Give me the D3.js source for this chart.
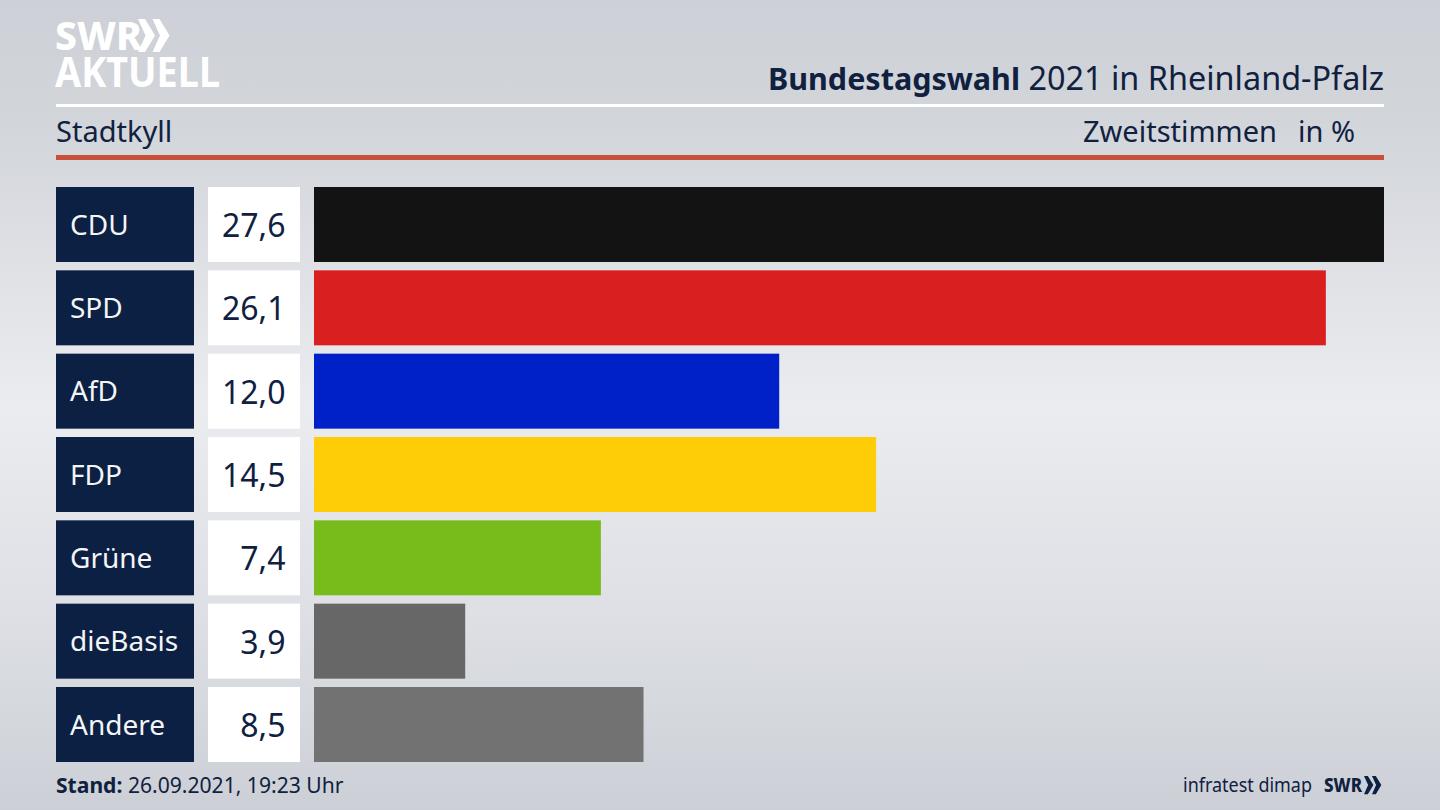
<!DOCTYPE html>
<html>
<head>
<meta charset="utf-8">
<script src="https://cdn.jsdelivr.net/npm/d3@7"></script>
<style>
    html, body { margin: 0; padding: 0; background: #d5d8de; }
    svg { display: block; }
    text { font-family: "Noto Sans", sans-serif; }
</style>
</head>
<body>
<div id="chart"></div>
<script>
const parties = ['CDU', 'SPD', 'AfD', 'FDP', 'Grüne', 'dieBasis', 'Andere'];
const values = [27.6, 26.1, 12.0, 14.5, 7.4, 3.9, 8.5];
const barColors = ['#131313', '#da201f', '#0021c8', '#ffcc08', '#78bc1b', '#676767', '#727273'];

const width = 1440,
    height = 810,
    navy = '#0b2042',
    textDark = '#10213f';

const svg =
    d3.select('#chart')
        .append('svg')
        .attr('width', width)
        .attr('height', height);

// background, a vertical band that is lightest just above the middle
const glow = svg.append('defs')
    .append('linearGradient')
    .attr('id', 'glow')
    .attr('x1', 0)
    .attr('y1', 0)
    .attr('x2', 0)
    .attr('y2', 1);
glow.append('stop').attr('offset', '0%').attr('stop-color', '#cdd0d6');
glow.append('stop').attr('offset', '15%').attr('stop-color', '#d2d5da');
glow.append('stop').attr('offset', '50%').attr('stop-color', '#ebecf0');
glow.append('stop').attr('offset', '75%').attr('stop-color', '#dee0e5');
glow.append('stop').attr('offset', '100%').attr('stop-color', '#ccd0d6');

svg.append('rect')
    .attr('width', width)
    .attr('height', height)
    .attr('fill', 'url(#glow)');

const y = d3.scaleBand()
    .domain(parties)
    .range([187, 762])
    .paddingInner(0.1);

const x = d3.scaleLinear()
    .domain([0, 27.6])
    .range([314, 1384]);

const rows = svg.selectAll('g.row')
    .data(parties)
    .enter()
    .append('g')
    .attr('class', 'row');

rows.append('rect')
    .attr('x', 56)
    .attr('y', d => y(d))
    .attr('width', 138)
    .attr('height', y.bandwidth())
    .attr('fill', navy);

rows.append('text')
    .text(d => d)
    .attr('x', 70)
    .attr('y', d => y(d) + y.bandwidth() / 2 + 10)
    .attr('font-size', 28)
    .attr('fill', '#f4f5f7');

rows.append('rect')
    .attr('x', 208)
    .attr('y', d => y(d))
    .attr('width', 92)
    .attr('height', y.bandwidth())
    .attr('fill', '#ffffff');

rows.append('text')
    .text((d, i) => values[i].toFixed(1).replace('.', ','))
    .attr('x', 285.5)
    .attr('y', d => y(d) + y.bandwidth() / 2 + 12.5)
    .attr('text-anchor', 'end')
    .attr('font-size', 32)
    .attr('fill', textDark);

rows.append('rect')
    .attr('x', x(0))
    .attr('y', d => y(d))
    .attr('width', (d, i) => x(values[i]) - x(0))
    .attr('height', y.bandwidth())
    .attr('fill', (d, i) => barColors[i]);

// header lines
svg.append('rect').attr('x', 56).attr('y', 104).attr('width', 1328).attr('height', 3).attr('fill', '#ffffff');
svg.append('rect').attr('x', 56).attr('y', 155).attr('width', 1328).attr('height', 5).attr('fill', '#c8503a');

const title = svg.append('text')
    .attr('x', 1384)
    .attr('y', 90)
    .attr('text-anchor', 'end')
    .attr('fill', textDark);
title.append('tspan').attr('font-size', 30.5).attr('font-weight', 700).text('Bundestagswahl');
title.append('tspan').attr('font-size', 32.4).text(' 2021 in Rheinland-Pfalz');

svg.append('text')
    .text('Stadtkyll')
    .attr('x', 56)
    .attr('y', 142)
    .attr('font-size', 29)
    .attr('fill', textDark);

svg.append('text')
    .text('Zweitstimmen')
    .attr('x', 1277)
    .attr('y', 142)
    .attr('text-anchor', 'end')
    .attr('font-size', 29)
    .attr('fill', textDark);

svg.append('text')
    .text('in %')
    .attr('x', 1355)
    .attr('y', 142)
    .attr('text-anchor', 'end')
    .attr('font-size', 29)
    .attr('fill', textDark);

// footer
const stand = svg.append('text')
    .attr('x', 56)
    .attr('y', 793)
    .attr('font-size', 21.1)
    .attr('fill', textDark);
stand.append('tspan').attr('font-weight', 700).text('Stand:');
stand.append('tspan').text(' 26.09.2021, 19:23 Uhr');

svg.append('text')
    .text('infratest dimap')
    .attr('x', 1183)
    .attr('y', 792)
    .attr('font-size', 20)
    .attr('textLength', 129)
    .attr('lengthAdjust', 'spacingAndGlyphs')
    .attr('fill', textDark);

svg.append('text')
    .text('SWR')
    .attr('x', 1324)
    .attr('y', 792)
    .attr('font-size', 20)
    .attr('font-weight', 800)
    .attr('textLength', 38)
    .attr('lengthAdjust', 'spacingAndGlyphs')
    .attr('fill', textDark);

// logo
svg.append('text')
    .text('SWR')
    .attr('x', 55)
    .attr('y', 50)
    .attr('font-size', 39)
    .attr('font-weight', 800)
    .attr('fill', '#ffffff');

svg.append('text')
    .text('AKTUELL')
    .attr('x', 55)
    .attr('y', 87)
    .attr('font-size', 41)
    .attr('font-weight', 700)
    .attr('textLength', 165)
    .attr('lengthAdjust', 'spacingAndGlyphs')
    .attr('fill', '#ffffff');

// double chevron used next to both SWR marks
const chevrons = (x0, y0, s, fill) => {
    [0, 14.5].forEach(dx => {
        svg.append('path')
            .attr('d', 'M0 0 L7 0 L17 16.5 L7 33 L0 33 L7.5 16.5 Z')
            .attr('transform', `translate(${x0 + dx * s},${y0}) scale(${s})`)
            .attr('fill', fill);
    });
};
chevrons(138, 19, 1, '#ffffff');
chevrons(1364, 776, 0.55, navy);
</script>
</body>
</html>
